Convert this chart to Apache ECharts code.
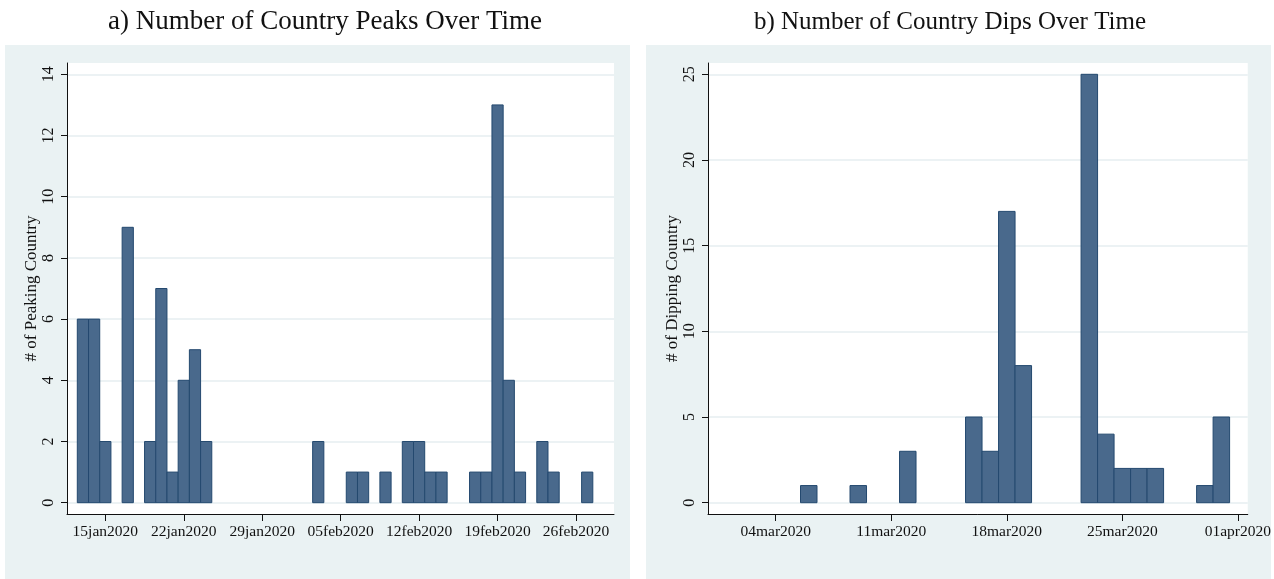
<!DOCTYPE html>
<html><head><meta charset="utf-8">
<script src="https://cdn.jsdelivr.net/npm/echarts@6/dist/echarts.min.js"></script>
<style>html,body{margin:0;padding:0;background:#fff}#c{width:1274px;height:579px}</style>
</head><body><div id="c"></div>
<script>
// ---- data ----
const peakDates = ["2020-01-13","2020-01-14","2020-01-15","2020-01-17","2020-01-19","2020-01-20","2020-01-21","2020-01-22","2020-01-23","2020-01-24","2020-02-03","2020-02-06","2020-02-07","2020-02-09","2020-02-11","2020-02-12","2020-02-13","2020-02-14","2020-02-17","2020-02-18","2020-02-19","2020-02-20","2020-02-21","2020-02-23","2020-02-24","2020-02-27"];
const peakCounts = [6,6,2,9,2,7,1,4,5,2,2,1,1,1,2,2,1,1,1,1,13,4,1,2,1,1];
const dipDates = ["2020-03-06","2020-03-09","2020-03-12","2020-03-16","2020-03-17","2020-03-18","2020-03-19","2020-03-23","2020-03-24","2020-03-25","2020-03-26","2020-03-27","2020-03-30","2020-03-31"];
const dipCounts = [1,1,3,5,3,17,8,25,4,2,2,2,1,5];
const peakTickLabels = ["15jan2020","22jan2020","29jan2020","05feb2020","12feb2020","19feb2020","26feb2020"];
const dipTickLabels = ["04mar2020","11mar2020","18mar2020","25mar2020","01apr2020"];
const peakYTicks = [0,2,4,6,8,10,12,14];
const dipYTicks = [0,5,10,15,20,25];

// ---- helpers ----
const MON = {jan:0,feb:1,mar:2,apr:3,may:4,jun:5,jul:6,aug:7,sep:8,oct:9,nov:10,dec:11};
const DAY = 86400000;
function isoDay(s){const p=s.split('-');return Date.UTC(+p[0],+p[1]-1,+p[2])/DAY;}
function lblDay(s){return Date.UTC(+s.slice(5),MON[s.slice(2,5)],+s.slice(0,2))/DAY;}
const peakTickDays = peakTickLabels.map(lblDay);
const dipTickDays = dipTickLabels.map(lblDay);
const labelMap = {};
peakTickLabels.forEach((l,i)=>labelMap[peakTickDays[i]]=l);
dipTickLabels.forEach((l,i)=>labelMap[dipTickDays[i]]=l);
const peakData = peakDates.map((d,i)=>[isoDay(d),peakCounts[i]]);
const dipData = dipDates.map((d,i)=>[isoDay(d),dipCounts[i]]);

const FONT = 'Liberation Serif';
const BG = '#eaf2f3';
const FILL = '#49698c';
const EDGE = '#24496f';

function renderBar(params, api){
  const x = api.value(0), y = api.value(1);
  const p0 = api.coord([x-0.5, 0]);
  const p1 = api.coord([x+0.5, y]);
  return {type:'rect', shape:{x:p0[0], y:p1[1], width:p1[0]-p0[0], height:p0[1]-p1[1]},
    style:{fill:FILL, stroke:EDGE, lineWidth:1}};
}

function xAxis(gi, ticks, min, max){
  return {type:'value', gridIndex:gi, min:min, max:max,
    axisLine:{show:true, onZero:false, lineStyle:{color:'#111', width:1}},
    axisTick:{show:true, length:7, customValues:ticks, lineStyle:{color:'#111'}},
    axisLabel:{customValues:ticks, formatter:v=>labelMap[v]||'', fontFamily:FONT, fontSize:15.5, color:'#111', margin:10},
    splitLine:{show:false}};
}
function yAxis(gi, ticks, min, max, name){
  return {type:'value', gridIndex:gi, min:min, max:max, name:name, nameLocation:'middle', nameRotate:90, nameGap:27,
    nameTextStyle:{fontFamily:FONT, fontSize:17, color:'#111'},
    axisLine:{show:true, onZero:false, lineStyle:{color:'#111', width:1}},
    axisTick:{show:true, length:6, customValues:ticks, lineStyle:{color:'#111'}},
    axisLabel:{customValues:ticks, rotate:90, fontFamily:FONT, fontSize:16, color:'#111', margin:10},
    splitLine:{show:true, lineStyle:{color:'#e6eef0', width:1.5}}};
}

const chart = echarts.init(document.getElementById('c'), null, {renderer:'canvas'});
chart.setOption({
  backgroundColor:'#fff',
  animation:false,
  title:[
    {text:'a) Number of Country Peaks Over Time', left:320, top:3, textAlign:'center',
     textStyle:{fontFamily:FONT, fontSize:27, fontWeight:'normal', color:'#111'}},
    {text:'b) Number of Country Dips Over Time', left:945, top:5, textAlign:'center',
     textStyle:{fontFamily:FONT, fontSize:25, fontWeight:'normal', color:'#111'}}
  ],
  graphic:[
    {type:'rect', z:-10, silent:true, shape:{x:5, y:45, width:625, height:534}, style:{fill:BG}},
    {type:'rect', z:-10, silent:true, shape:{x:646, y:45, width:625, height:534}, style:{fill:BG}},
    {type:'rect', z:100, silent:true, shape:{x:1271, y:45, width:10, height:534}, style:{fill:'#fff'}}
  ],
  grid:[
    {left:67, top:63, width:547, height:451, show:true, backgroundColor:'#fff', borderWidth:0},
    {left:708, top:63, width:547, height:451, show:true, backgroundColor:'#fff', borderWidth:0}
  ],
  xAxis:[
    xAxis(0, peakTickDays, peakTickDays[0]-3.42, peakTickDays[0]+45.39),
    xAxis(1, dipTickDays, dipTickDays[0]-4.105, dipTickDays[0]+28.6)
  ],
  yAxis:[
    yAxis(0, peakYTicks, -0.37, 14.37, '# of Peaking Country'),
    yAxis(1, dipYTicks, -0.66, 25.66, '# of Dipping Country')
  ],
  series:[
    {type:'custom', xAxisIndex:0, yAxisIndex:0, data:peakData, renderItem:renderBar, encode:{x:0,y:1}},
    {type:'custom', xAxisIndex:1, yAxisIndex:1, data:dipData, renderItem:renderBar, encode:{x:0,y:1}}
  ]
});
</script></body></html>
